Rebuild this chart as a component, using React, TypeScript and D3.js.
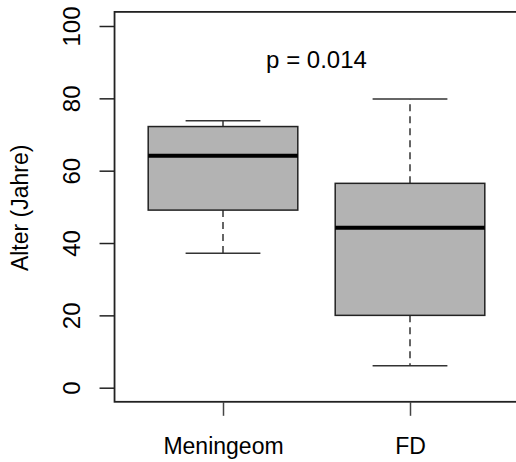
import React, { useRef, useEffect } from "react";
import * as d3 from "d3";

// boxplot stats (Alter in Jahren)
const groups = ["Meningeom", "FD"];
const whiskerLow = [37.2, 6.1];
const q1 = [49.1, 20.0];
const medians = [64.1, 44.2];
const q3 = [72.2, 56.5];
const whiskerHigh = [73.8, 79.8];
const yTicks = [0, 20, 40, 60, 80, 100];
const pLabel = "p = 0.014";
const yTitle = "Alter (Jahre)";

export default function App() {
  const ref = useRef<SVGSVGElement>(null);

  const layout = { width: 516, height: 462 };
  const font = "'Liberation Sans', Arial, Helvetica, sans-serif";

  useEffect(() => {
    const svg = d3.select(ref.current);
    svg.selectAll("*").remove();

    // R style: positions 1..n, xlim 0.5..n+0.5 widened by 4%
    const xScale = d3.scaleLinear().domain([1, 2]).range([223, 410]);
    const yScale = d3.scaleLinear().domain([0, 100]).range([387.7, 26]);

    const xMin = 0.42, xMax = 2.58;
    const yMin = -3.9, yMax = 103.9;

    const data = groups.map((g, i) => ({
      name: g,
      pos: i + 1,
      lo: whiskerLow[i],
      q1: q1[i],
      med: medians[i],
      q3: q3[i],
      hi: whiskerHigh[i],
    }));

    const boxHalf = 0.4;
    const capHalf = 0.2;

    const boxes = svg.append("g").selectAll("g").data(data).join("g");

    // whiskers (dashed)
    boxes.append("line")
      .attr("x1", d => xScale(d.pos)).attr("x2", d => xScale(d.pos))
      .attr("y1", d => yScale(d.q3)).attr("y2", d => yScale(d.hi))
      .attr("stroke", "#333").attr("stroke-width", 1.5)
      .attr("stroke-dasharray", "7,5");
    boxes.append("line")
      .attr("x1", d => xScale(d.pos)).attr("x2", d => xScale(d.pos))
      .attr("y1", d => yScale(d.q1)).attr("y2", d => yScale(d.lo))
      .attr("stroke", "#333").attr("stroke-width", 1.5)
      .attr("stroke-dasharray", "7,5");

    // staples
    for (const key of ["lo", "hi"] as const) {
      boxes.append("line")
        .attr("x1", d => xScale(d.pos - capHalf)).attr("x2", d => xScale(d.pos + capHalf))
        .attr("y1", d => yScale(d[key])).attr("y2", d => yScale(d[key]))
        .attr("stroke", "#333").attr("stroke-width", 1.5);
    }

    // box
    boxes.append("rect")
      .attr("x", d => xScale(d.pos - boxHalf))
      .attr("width", d => xScale(d.pos + boxHalf) - xScale(d.pos - boxHalf))
      .attr("y", d => yScale(d.q3))
      .attr("height", d => yScale(d.q1) - yScale(d.q3))
      .attr("fill", "#b3b3b3")
      .attr("stroke", "#222").attr("stroke-width", 1.5);

    // median
    boxes.append("line")
      .attr("x1", d => xScale(d.pos - boxHalf)).attr("x2", d => xScale(d.pos + boxHalf))
      .attr("y1", d => yScale(d.med)).attr("y2", d => yScale(d.med))
      .attr("stroke", "#000").attr("stroke-width", 4);

    // frame
    svg.append("rect")
      .attr("x", xScale(xMin)).attr("y", yScale(yMax))
      .attr("width", xScale(xMax) - xScale(xMin))
      .attr("height", yScale(yMin) - yScale(yMax))
      .attr("fill", "none").attr("stroke", "#222").attr("stroke-width", 1.8);

    // y axis
    const yAxis = svg.append("g")
      .attr("transform", `translate(${xScale(xMin)},0)`)
      .call(d3.axisLeft(yScale).tickValues(yTicks).tickSize(15).tickPadding(0).tickFormat(d3.format("d")));
    yAxis.select(".domain").remove();
    yAxis.selectAll(".tick line").attr("stroke", "#222").attr("stroke-width", 1.5);
    yAxis.selectAll(".tick text")
      .attr("x", null).attr("dy", null)
      .attr("text-anchor", "middle")
      .attr("transform", "translate(-35,0) rotate(-90)")
      .attr("font-family", font).attr("font-size", 24).attr("fill", "#000");

    // x axis
    const xAxis = svg.append("g")
      .attr("transform", `translate(0,${yScale(yMin)})`)
      .call(d3.axisBottom(xScale).tickValues([1, 2]).tickSize(14).tickPadding(0)
        .tickFormat((d) => groups[(d as number) - 1]));
    xAxis.select(".domain").remove();
    xAxis.selectAll(".tick line").attr("stroke", "#444").attr("stroke-width", 1.5);
    xAxis.selectAll(".tick text")
      .attr("y", 52).attr("dy", null)
      .attr("font-family", font).attr("font-size", 23).attr("fill", "#000");

    // p value
    svg.append("text")
      .attr("x", xScale(1.5)).attr("y", 68)
      .attr("text-anchor", "middle")
      .attr("font-family", font).attr("font-size", 24)
      .text(pLabel);

    // y title
    svg.append("text")
      .attr("transform", `translate(28,${yScale(50) + 1}) rotate(-90)`)
      .attr("text-anchor", "middle")
      .attr("font-family", font).attr("font-size", 23)
      .text(yTitle);
  }, []);

  return (
    <svg
      ref={ref}
      width={layout.width}
      height={layout.height}
      style={{ position: "absolute", left: 0, top: 0, background: "#fff" }}
    />
  );
}
